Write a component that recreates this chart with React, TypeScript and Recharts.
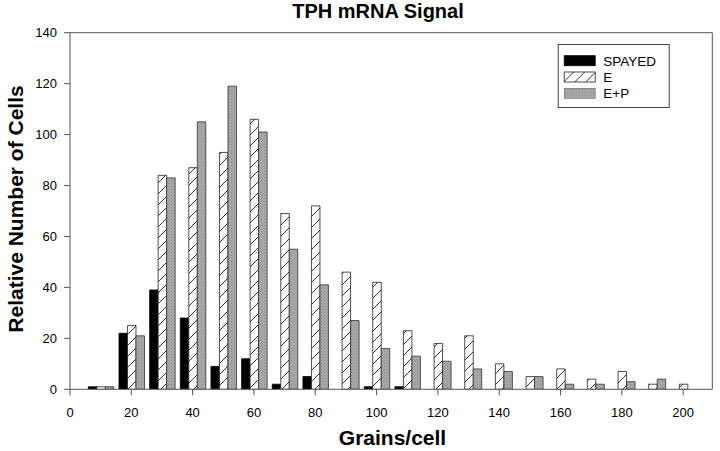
import React from 'react';
import { BarChart, Bar, XAxis, YAxis, ReferenceLine } from 'recharts';

const grains = [10, 20, 30, 40, 50, 60, 70, 80, 90, 100, 110, 120, 130, 140, 150, 160, 170, 180, 190, 200];
const spayed = [1, 22, 39, 28, 9, 12, 2, 5, 0, 1, 1, 0, 0, 0, 0, 0, 0, 0, 0, 0];
const eOnly = [1, 25, 84, 87, 93, 106, 69, 72, 46, 42, 23, 18, 21, 10, 5, 8, 4, 7, 2, 2];
const ePlusP = [1, 21, 83, 105, 119, 101, 55, 41, 27, 16, 13, 11, 8, 7, 5, 2, 2, 3, 4, 0];
const xTicks = [0, 20, 40, 60, 80, 100, 120, 140, 160, 180, 200];
const yTicks = [0, 20, 40, 60, 80, 100, 120, 140];
const seriesNames = ['SPAYED', 'E', 'E+P'];

const data = grains.map((g, i) => ({ x: g, spayed: spayed[i], e: eOnly[i], ep: ePlusP[i] }));

const FONT = '"Liberation Sans", Arial, Helvetica, sans-serif';
const AXIS = '#555';
const X_MAX = 209.5;

export default function App() {
  const tickStyle = { fill: '#000', fontSize: 13, fontFamily: FONT };
  return (
    <div style={{ position: 'absolute', left: 0, top: 0, width: 720, height: 451, background: '#fff' }}>
      <svg width={0} height={0} style={{ position: 'absolute' }}>
        <defs>
          <pattern id="hatchE" patternUnits="userSpaceOnUse" width={11} height={11}>
            <rect width={11} height={11} fill="#fff" />
            <path d="M-1,1 l2,-2 M0,11 l11,-11 M10,12 l2,-2" stroke="#000" strokeWidth={0.8} />
          </pattern>
          <pattern id="stippleEP" patternUnits="userSpaceOnUse" width={3} height={3}>
            <rect width={3} height={3} fill="#a9a9a9" />
            <rect x={0} y={0} width={1} height={1} fill="#8c8c8c" />
            <rect x={1.5} y={1.5} width={1} height={1} fill="#959595" />
          </pattern>
        </defs>
      </svg>
      <BarChart
        width={720}
        height={451}
        data={data}
        margin={{ top: 32.7, right: 720 - 70 - X_MAX * 3.0659, bottom: 0, left: 0 }}
        barGap={0}
        barSize={8.5}
      >
        <XAxis
          type="number"
          dataKey="x"
          domain={[0, X_MAX]}
          allowDataOverflow
          ticks={xTicks}
          interval={0}
          height={61.7}
          tickSize={6}
          tickMargin={12}
          stroke={AXIS}
          tick={tickStyle}
        />
        <YAxis
          type="number"
          domain={[0, 140]}
          allowDataOverflow
          ticks={yTicks}
          interval={0}
          width={70}
          tickSize={6}
          tickMargin={7}
          stroke={AXIS}
          tick={tickStyle}
        />
        <ReferenceLine y={140} stroke={AXIS} />
        <ReferenceLine x={X_MAX} stroke={AXIS} />
        <Bar dataKey="spayed" name={seriesNames[0]} fill="#000" stroke="#000" strokeWidth={0.8} isAnimationActive={false} />
        <Bar dataKey="e" name={seriesNames[1]} fill="url(#hatchE)" stroke="#222" strokeWidth={0.8} isAnimationActive={false} />
        <Bar dataKey="ep" name={seriesNames[2]} fill="url(#stippleEP)" stroke="#333" strokeWidth={0.8} isAnimationActive={false} />
      </BarChart>
      <svg width={720} height={451} style={{ position: 'absolute', left: 0, top: 0, pointerEvents: 'none' }}>
        <text x={378} y={18.3} textAnchor="middle" fontFamily={FONT} fontWeight="bold" fontSize={20} fill="#000">
          TPH mRNA Signal
        </text>
        <text x={392.5} y={445} textAnchor="middle" fontFamily={FONT} fontWeight="bold" fontSize={21} fill="#000">
          Grains/cell
        </text>
        <text
          transform="translate(23,209) rotate(-90)"
          textAnchor="middle"
          fontFamily={FONT}
          fontWeight="bold"
          fontSize={21}
          fill="#000"
        >
          Relative Number of Cells
        </text>
        <g transform="translate(557.7,44)">
          <rect x={0.5} y={0.5} width={111} height={63} fill="#fff" stroke="#444" strokeWidth={1} />
          <rect x={6.5} y={11.7} width={31} height={10} fill="#000" stroke="#000" strokeWidth={0.8} />
          <rect x={6.5} y={28} width={31} height={10} fill="url(#hatchE)" stroke="#222" strokeWidth={0.8} />
          <rect x={6.5} y={44.3} width={31} height={10} fill="url(#stippleEP)" stroke="#555" strokeWidth={0.5} />
          <text x={45.6} y={21.5} fontFamily={FONT} fontSize={13.5} fill="#000">{seriesNames[0]}</text>
          <text x={45.6} y={37.8} fontFamily={FONT} fontSize={13.5} fill="#000">{seriesNames[1]}</text>
          <text x={45.6} y={54.2} fontFamily={FONT} fontSize={13.5} fill="#000">{seriesNames[2]}</text>
        </g>
      </svg>
    </div>
  );
}
